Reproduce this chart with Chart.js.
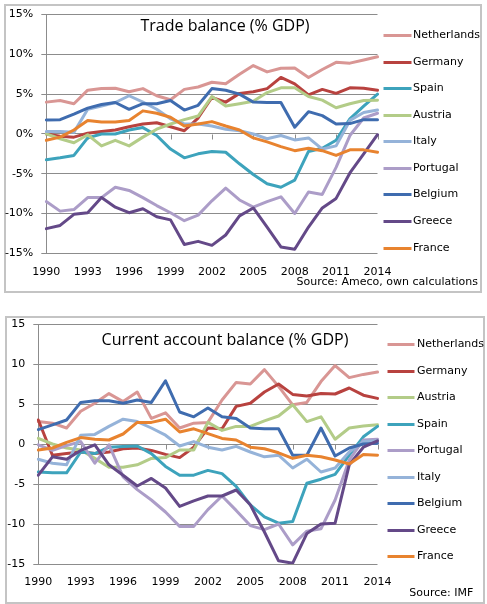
<!DOCTYPE html>
<html><head><meta charset="utf-8">
<script src="https://cdn.jsdelivr.net/npm/chart.js@4.4.1/dist/chart.umd.min.js"></script>
<style>
html,body{margin:0;padding:0;background:#fff;}
body{width:487px;height:604px;position:relative;overflow:hidden;}
.box{position:absolute;border:2px solid #c4c4c4;box-sizing:border-box;}
canvas{position:absolute;}
</style></head><body>
<div class="box" style="left:4px;top:4px;width:478px;height:289px"></div>
<div class="box" style="left:5px;top:316px;width:480px;height:288px"></div>
<canvas id="c1" width="487" height="298" style="left:0;top:0;width:487px;height:298px"></canvas>
<canvas id="c2" width="487" height="306" style="left:0;top:298px;width:487px;height:306px"></canvas>
<script>
// ---------- DATA ----------
const years = ['1990','1991','1992','1993','1994','1995','1996','1997','1998','1999','2000','2001','2002','2003','2004','2005','2006','2007','2008','2009','2010','2011','2012','2013','2014'];
const xTickLabels = ['1990','1993','1996','1999','2002','2005','2008','2011','2014'];

// Trade balance (% GDP), source: Ameco
const tradeCountries = ['Netherlands','Germany','Spain','Austria','Italy','Portugal','Belgium','Greece','France'];
const tradeNetherlands = [4.0,4.2,3.8,5.5,5.7,5.75,5.3,5.7,4.8,4.3,5.6,5.9,6.5,6.3,7.5,8.6,7.8,8.25,8.3,7.1,8.1,9.0,8.9,9.3,9.7];
const tradeGermany     = [0.0,-0.3,-0.4,0.1,0.3,0.5,0.9,1.25,1.4,0.9,0.4,2.0,4.6,4.0,5.1,5.3,5.7,7.1,6.3,4.9,5.6,5.1,5.8,5.75,5.5];
const tradeSpain       = [-3.25,-3.0,-2.7,-0.5,0.0,0.0,0.5,0.8,-0.2,-1.9,-3.0,-2.5,-2.2,-2.3,-3.75,-5.1,-6.25,-6.7,-5.8,-2.2,-1.8,-0.8,1.9,3.5,5.0];
const tradeAustria     = [0.0,-0.6,-1.1,-0.1,-1.5,-0.8,-1.5,-0.4,0.6,1.25,1.8,2.25,4.7,3.5,3.8,4.1,5.2,5.8,5.8,4.7,4.25,3.3,3.8,4.2,4.25];
const tradeItaly       = [0.3,0.3,0.2,3.1,3.5,3.95,4.8,4.0,3.1,1.9,1.25,1.25,1.0,0.6,0.4,0.0,-0.6,-0.2,-0.75,-0.5,-1.9,-1.5,1.7,2.7,3.0];
const tradePortugal    = [-8.5,-9.7,-9.5,-8.0,-8.0,-6.7,-7.1,-8.0,-9.0,-9.9,-10.9,-10.2,-8.4,-6.8,-8.3,-9.2,-8.5,-7.9,-10.0,-7.3,-7.6,-4.2,-0.2,2.0,2.6];
const tradeBelgium     = [1.75,1.8,2.5,3.25,3.7,3.95,3.1,3.8,3.8,4.2,3.0,3.6,5.7,5.5,5.0,4.0,3.95,3.95,0.85,2.8,2.3,1.25,1.3,1.8,1.8];
const tradeGreece      = [-11.9,-11.5,-10.1,-9.9,-8.0,-9.2,-9.9,-9.4,-10.4,-10.8,-13.9,-13.5,-14.0,-12.7,-10.3,-9.3,-11.7,-14.2,-14.5,-11.7,-9.3,-8.1,-4.9,-2.5,-0.1];
const tradeFrance      = [-0.8,-0.4,0.5,1.7,1.5,1.5,1.7,2.9,2.6,2.1,1.0,1.25,1.55,1.0,0.5,-0.5,-1.0,-1.6,-2.1,-1.8,-2.1,-2.7,-2.0,-2.0,-2.3];

// Current account balance (% GDP), source: IMF
const caCountries = ['Netherlands','Germany','Austria','Spain','Portugal','Italy','Belgium','Greece','France'];
const caNetherlands = [2.8,2.6,2.0,4.1,5.1,6.3,5.3,6.5,3.2,3.9,2.0,2.6,2.7,5.5,7.7,7.5,9.3,7.2,4.9,5.2,7.8,9.8,8.3,8.7,9.0];
const caGermany     = [3.0,-1.4,-1.2,-1.0,-1.2,-1.0,-0.6,-0.5,-0.8,-1.3,-1.7,-0.4,2.0,1.9,4.7,5.1,6.5,7.5,6.2,6.0,6.3,6.25,7.0,6.1,5.7];
const caAustria     = [0.7,0.0,-0.5,-0.75,-1.8,-2.9,-2.9,-2.6,-1.8,-1.7,-0.75,-0.75,2.7,1.7,2.2,2.2,2.9,3.5,4.9,2.8,3.4,0.6,2.0,2.25,2.4];
const caSpain       = [-3.5,-3.6,-3.6,-1.0,-1.2,-0.4,-0.3,-0.25,-1.2,-2.8,-3.9,-3.9,-3.3,-3.7,-5.3,-7.6,-9.1,-9.9,-9.7,-4.9,-4.4,-3.8,-1.4,0.9,2.2];
const caPortugal    = [-0.1,-0.8,-0.2,0.3,-2.4,-0.1,-4.1,-5.7,-7.0,-8.5,-10.3,-10.3,-8.2,-6.5,-8.3,-10.2,-10.7,-10.0,-12.6,-10.9,-10.6,-7.0,-2.0,0.5,0.6];
const caItaly       = [-1.9,-2.4,-2.6,1.1,1.2,2.2,3.1,2.8,2.0,1.1,-0.25,0.3,-0.4,-0.75,-0.3,-1.0,-1.6,-1.4,-3.0,-1.9,-3.5,-3.0,-1.0,0.3,0.4];
const caBelgium     = [1.8,2.4,3.0,5.2,5.4,5.4,5.1,5.5,5.2,7.9,4.0,3.4,4.5,3.4,3.2,2.0,1.9,1.9,-1.4,-1.4,2.0,-1.5,-0.5,0.0,0.1];
const caGreece      = [-3.9,-1.6,-1.9,-0.8,-0.1,-2.6,-3.9,-5.25,-4.3,-5.5,-7.8,-7.1,-6.5,-6.5,-5.75,-7.6,-11.0,-14.6,-14.9,-11.2,-10.0,-9.9,-2.6,-0.4,0.4];
const caFrance      = [-0.75,-0.5,0.2,0.8,0.6,0.5,1.25,2.7,2.7,3.1,1.5,1.9,1.3,0.7,0.5,-0.4,-0.6,-1.1,-1.8,-1.4,-1.6,-2.0,-2.5,-1.3,-1.4];

// ---------- STYLE ----------
const colors = {
  Netherlands:'#D99694', Germany:'#B8423F', Spain:'#3DA3BC', Austria:'#B3CC88',
  Italy:'#95B3D9', Portugal:'#AC9DC8', Belgium:'#3F6CAF', Greece:'#644988', France:'#E8832F'
};
const tradeData = {Netherlands:tradeNetherlands, Germany:tradeGermany, Spain:tradeSpain, Austria:tradeAustria, Italy:tradeItaly, Portugal:tradePortugal, Belgium:tradeBelgium, Greece:tradeGreece, France:tradeFrance};
const caData = {Netherlands:caNetherlands, Germany:caGermany, Austria:caAustria, Spain:caSpain, Portugal:caPortugal, Italy:caItaly, Belgium:caBelgium, Greece:caGreece, France:caFrance};

Chart.defaults.font.family = 'DejaVu Sans';
const GRID = '#8c8c8c';

const decor = {
  id:'decor',
  beforeDatasetsDraw(chart, args, o){
    const {ctx, scales:{x,y}} = chart;
    const y0 = Math.round(y.getPixelForValue(0)) + 0.5;
    ctx.save(); ctx.strokeStyle = GRID; ctx.lineWidth = 1;
    ctx.beginPath();
    x.ticks.forEach((t,i)=>{
      if (t.label === null || t.label === undefined || t.label === '') return;
      const px = Math.round(x.getPixelForTick(i)) + 0.5;
      ctx.moveTo(px, y0); ctx.lineTo(px, y0 + 5);
    });
    ctx.stroke(); ctx.restore();
  },
  afterDraw(chart, args, o){
    const {ctx, chartArea:a} = chart;
    ctx.save();
    ctx.fillStyle = '#000';
    ctx.font = '16px "Open Sans"'; ctx.textAlign = 'center'; ctx.textBaseline = 'middle';
    ctx.fillText(o.title, o.titleX, o.titleY);
    ctx.font = '11px "DejaVu Sans"'; ctx.textAlign = 'right';
    ctx.fillText(o.source, o.sourceX, o.sourceY);
    chart.data.datasets.forEach((ds,i)=>{
      const ly = Math.round(a.top + o.legTop + i*o.legStep) + 0.5;
      ctx.strokeStyle = ds.borderColor; ctx.lineWidth = 3; ctx.lineCap = 'butt';
      ctx.beginPath(); ctx.moveTo(a.right + o.legX0, ly); ctx.lineTo(a.right + o.legX1, ly); ctx.stroke();
      ctx.textAlign = 'left';
      ctx.fillText(ds.label, a.right + o.legX1 + o.legGap, ly);
    });
    ctx.restore();
  }
};

function makeChart(id, countries, dataMap, cfg){
  return new Chart(document.getElementById(id), {
    type:'line',
    data:{
      labels: years,
      datasets: countries.map((c,i)=>({
        label:c, data:dataMap[c], borderColor:colors[c], backgroundColor:colors[c],
        borderWidth:3, pointRadius:0, pointHoverRadius:0, tension:0, fill:false,
        order:-i, borderJoinStyle:'round', borderCapStyle:'round'
      }))
    },
    options:{
      responsive:false, animation:false,
      layout:{padding:{left:0, right:cfg.padRight, top:cfg.padTop, bottom:0}},
      plugins:{legend:{display:false}, tooltip:{enabled:false}, title:{display:false}, decor:cfg},
      scales:{
        x:{
          type:'category', offset:false,
          grid:{display:false}, border:{display:false},
          ticks:{autoSkip:false, maxRotation:0, minRotation:0, padding:cfg.xPad, color:'#000',
            font:{family:'DejaVu Sans', size:11},
            callback:function(v){ const l = this.getLabelForValue(v); return xTickLabels.includes(l) ? l : null; }},
          afterFit:(s)=>{ s.height = cfg.xHeight; }
        },
        y:{
          min:-15, max:15,
          grid:{color:GRID, lineWidth:1, tickLength:5, drawTicks:true},
          border:{display:true, color:GRID, width:1},
          ticks:{stepSize:5, padding:8, color:'#000', font:{family:'DejaVu Sans', size:11},
            callback:(v)=> v + cfg.suffix},
          afterFit:(s)=>{ s.width = cfg.yWidth; }
        }
      }
    },
    plugins:[decor]
  });
}

makeChart('c1', tradeCountries, tradeData, {
  padRight:109.5, padTop:12.8, xHeight:44.7, yWidth:46.3, xPad:4, suffix:'%',
  title:'Trade balance (% GDP)', titleX:225, titleY:26.7,
  source:'Source: Ameco, own calculations', sourceX:478, sourceY:281.7,
  legTop:20.5, legStep:26.55, legX0:6, legX1:34, legGap:1.5
});
makeChart('c2', caCountries, caData, {
  padRight:109.5, padTop:26, xHeight:40, yWidth:38.3, xPad:3.5, suffix:'',
  title:'Current account balance (% GDP)', titleX:225, titleY:42,
  source:'Source: IMF', sourceX:473.3, sourceY:295.3,
  legTop:20.3, legStep:26.5, legX0:10, legX1:37, legGap:2.5
});
</script>
</body></html>
